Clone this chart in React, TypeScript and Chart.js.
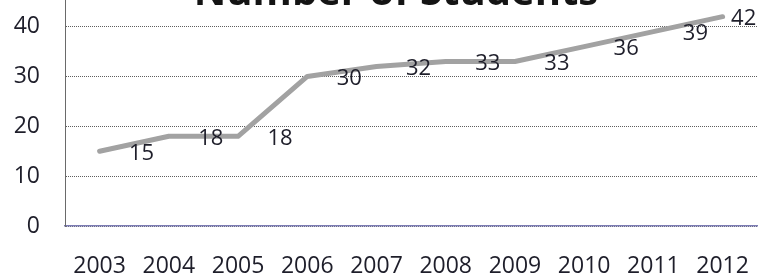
import React, { useEffect, useRef } from "react";
import { Chart, registerables } from "chart.js";

Chart.register(...registerables);

const years = ["2003", "2004", "2005", "2006", "2007", "2008", "2009", "2010", "2011", "2012"];
const students = [15, 18, 18, 30, 32, 33, 33, 36, 39, 42];
const yTicks = [0, 10, 20, 30, 40, 50];
const chartTitle = "Number of Students";

const FONT = "'Open Sans', 'Noto Sans', sans-serif";
const TEXT = "#1e1e2a";

const labelPlugin = {
  id: "valueLabels",
  afterDatasetsDraw(chart: any) {
    const ctx = chart.ctx;
    const meta = chart.getDatasetMeta(0);
    const area = chart.chartArea;
    ctx.save();
    ctx.font = `22px ${FONT}`;
    ctx.fillStyle = TEXT;
    ctx.textAlign = "center";
    ctx.textBaseline = "middle";
    meta.data.forEach((pt: any, i: number) => {
      const txt = String(students[i]);
      const w = ctx.measureText(txt).width;
      const x = Math.min(pt.x + 42, area.right - w / 2 - 1);
      ctx.fillText(txt, x, pt.y + 2);
    });
    ctx.restore();
  },
};

const titlePlugin = {
  id: "overlayTitle",
  afterDraw(chart: any) {
    const ctx = chart.ctx;
    ctx.save();
    ctx.font = `bold 40px ${FONT}`;
    ctx.fillStyle = "#141414";
    ctx.textAlign = "center";
    ctx.textBaseline = "alphabetic";
    ctx.fillText(chartTitle, 396, 67);
    ctx.restore();
  },
};

export default function App() {
  const ref = useRef<HTMLCanvasElement | null>(null);

  useEffect(() => {
    if (!ref.current) return;
    const chart = new Chart(ref.current, {
      type: "line",
      data: {
        labels: years,
        datasets: [
          {
            data: students,
            borderColor: "#a2a2a2",
            borderWidth: 5,
            borderCapStyle: "round",
            borderJoinStyle: "round",
            pointRadius: 0,
            tension: 0,
            fill: false,
          },
        ],
      },
      options: {
        responsive: false,
        animation: false,
        layout: { padding: { top: 16, right: 2, left: 0, bottom: 0 } },
        plugins: {
          legend: { display: false },
          title: { display: false },
          tooltip: { enabled: false },
        },
        scales: {
          x: {
            offset: true,
            grid: { display: false, drawTicks: false },
            border: { display: true, color: "#7c7cb4", width: 1.5 },
            ticks: {
              padding: 27,
              color: TEXT,
              font: { family: FONT, size: 23 },
              maxRotation: 0,
            },
            afterFit: (s: any) => {
              s.height = 54;
            },
          },
          y: {
            min: 0,
            max: 50,
            afterBuildTicks: (s: any) => {
              s.ticks = yTicks.map((v) => ({ value: v }));
            },
            grid: {
              color: "#5e5e5e",
              lineWidth: 1,
              drawTicks: false,
              tickBorderDash: [],
            },
            border: { display: true, color: "#6a6a6a", width: 1, dash: [1, 1] },
            ticks: {
              padding: 25,
              color: TEXT,
              font: { family: FONT, size: 23 },
            },
            afterFit: (s: any) => {
              s.width = 65;
            },
          },
        },
      },
      plugins: [labelPlugin, titlePlugin],
    } as any);
    return () => chart.destroy();
  }, []);

  return (
    <div
      style={{
        position: "fixed",
        top: 0,
        left: 0,
        width: 776,
        height: 277,
        overflow: "hidden",
        background: "#fff",
      }}
    >
      <div style={{ position: "absolute", top: -62, left: 0, width: 776, height: 342 }}>
        <canvas ref={ref} width={776} height={342} style={{ display: "block" }} />
      </div>
    </div>
  );
}
